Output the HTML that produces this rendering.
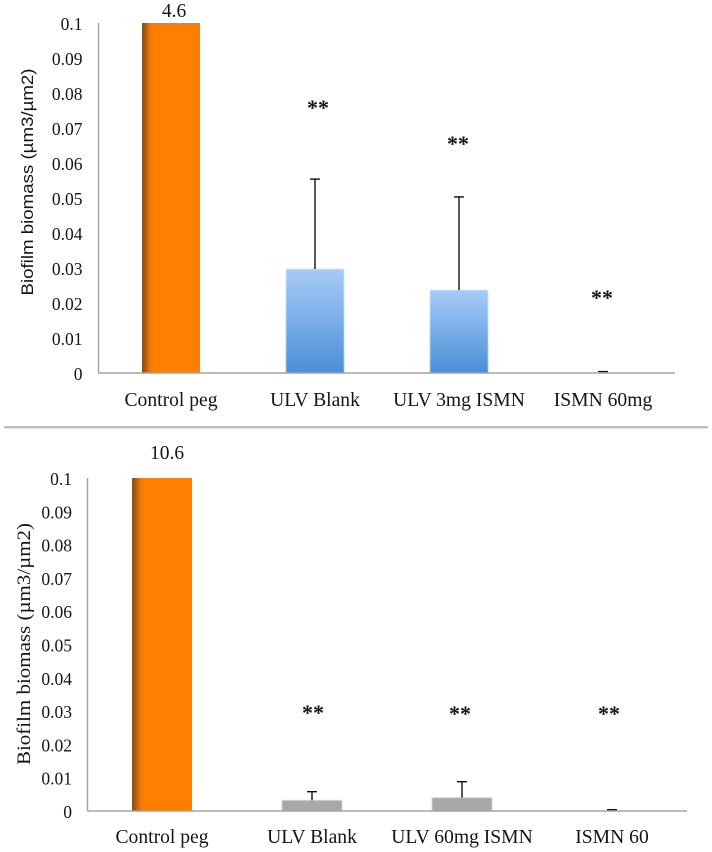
<!DOCTYPE html>
<html lang="en">
<head>
<meta charset="utf-8">
<title>Biofilm biomass charts</title>
<style>
  html, body { margin: 0; padding: 0; background: #fff; }
  svg { display: block; }
  text { fill: #141414; font-family: "Liberation Serif", serif; }
</style>
</head>
<body>
<svg id="figure" width="712" height="852" viewBox="0 0 712 852" xmlns="http://www.w3.org/2000/svg">
  <defs>
    <linearGradient id="orangeFill" x1="0" y1="0" x2="1" y2="0">
      <stop offset="0" stop-color="#8f4f14"/>
      <stop offset="0.04" stop-color="#a05510"/>
      <stop offset="0.13" stop-color="#e87408"/>
      <stop offset="0.2" stop-color="#ff7f00"/>
      <stop offset="1" stop-color="#ff7f00"/>
    </linearGradient>
    <linearGradient id="blueFill" x1="0" y1="0" x2="0" y2="1">
      <stop offset="0" stop-color="#a8cbf8"/>
      <stop offset="1" stop-color="#4a8fd8"/>
    </linearGradient>
    <filter id="softEdge" x="-10%" y="-10%" width="120%" height="120%">
      <feGaussianBlur stdDeviation="0.6"/>
    </filter>
  </defs>

  <rect x="0" y="0" width="712" height="852" fill="#ffffff"/>
  <rect x="4" y="426" width="704" height="2.4" fill="#bdbdbd"/>

  <g id="panelTop"></g>
  <g id="panelBottom"></g>

  <g font-weight="bold" font-size="22" text-anchor="middle">
    <text x="318" y="115">**</text>
    <text x="458" y="151">**</text>
    <text x="602" y="305">**</text>
    <text x="313" y="720">**</text>
    <text x="460" y="721">**</text>
    <text x="609" y="721">**</text>
  </g>
</svg>

<script>
const yTickLabels = ["0", "0.01", "0.02", "0.03", "0.04", "0.05", "0.06", "0.07", "0.08", "0.09", "0.1"];
const yTickValues = [0, 0.01, 0.02, 0.03, 0.04, 0.05, 0.06, 0.07, 0.08, 0.09, 0.1];
const axisMaximum = 0.1;

const topCategories = ["Control peg", "ULV Blank", "ULV 3mg ISMN", "ISMN 60mg"];
const topValues = [4.6, 0.0297, 0.0237, 0.0002];
const topErrors = [0, 0.0257, 0.0266, 0.0002];

const bottomCategories = ["Control peg", "ULV Blank", "ULV 60mg ISMN", "ISMN 60"];
const bottomValues = [10.6, 0.0032, 0.004, 0.0002];
const bottomErrors = [0, 0.0026, 0.0048, 0.0002];

const SVG_NS = "http://www.w3.org/2000/svg";

function svgEl(parent, tag, attrs) {
  const el = document.createElementNS(SVG_NS, tag);
  for (const key in attrs) el.setAttribute(key, attrs[key]);
  parent.appendChild(el);
  return el;
}

function drawPanel(root, cfg, categories, values, errors) {
  const yScale = v => cfg.bottom - (Math.min(v, axisMaximum) / axisMaximum) * (cfg.bottom - cfg.top);
  const xScale = i => cfg.firstCenter + i * cfg.step;

  yTickValues.forEach((tick, i) => {
    const label = svgEl(root, "text", { x: cfg.tickRight, y: yScale(tick) + 7, "text-anchor": "end", "font-size": 17.5 });
    
    
    label.textContent = yTickLabels[i];
  });

  values.forEach((value, i) => {
    const cx = xScale(i);
    const yTop = yScale(value);
    if (value > axisMaximum) {
      const bar = svgEl(root, "rect", { x: cx - cfg.barWidth / 2, y: yTop, width: cfg.barWidth, height: cfg.bottom - yTop, fill: "url(#orangeFill)" });
      
      
      const valueLabel = svgEl(root, "text", { x: cx + cfg.valueDx, y: cfg.valueY, "text-anchor": "middle", "font-size": 19.5 });
      
      
      valueLabel.textContent = String(value);
    } else if (value > 0.001) {
      const bar = svgEl(root, "rect", { x: cx - cfg.barWidth / 2, y: yTop, width: cfg.barWidth, height: cfg.bottom - yTop, fill: cfg.barFill, filter: "url(#softEdge)" });
      
      
    }
    if (errors[i] > 0) {
      const yErr = yScale(value + errors[i]);
      const stem = svgEl(root, "line", { x1: cx, x2: cx, y1: yTop, y2: yErr, stroke: "#111", "stroke-width": 1.4 });
      
      
      const cap = svgEl(root, "line", { x1: cx - 5, x2: cx + 5, y1: yErr, y2: yErr, stroke: "#111", "stroke-width": 1.4 });
      
      
    }
    const catLabel = svgEl(root, "text", { x: cx, y: cfg.catY, "text-anchor": "middle", "font-size": 19.6 });
    
    
    catLabel.textContent = categories[i];
  });

  const yAxis = svgEl(root, "line", { x1: cfg.left, x2: cfg.left, y1: cfg.top, y2: cfg.bottom, stroke: "#a3a3a3", "stroke-width": 1.4 });
  
  
  const xAxis = svgEl(root, "line", { x1: cfg.left, x2: cfg.right, y1: cfg.bottom, y2: cfg.bottom, stroke: "#a3a3a3", "stroke-width": 1.4 });
  
  

  const title = svgEl(root, "text", {
    transform: "translate(" + cfg.titleX + "," + cfg.titleY + ") rotate(-90)",
    "text-anchor": "middle",
    "font-size": cfg.titleSize,
    textLength: cfg.titleLength,
    lengthAdjust: "spacingAndGlyphs"
  });
  title.style.fontFamily = cfg.titleFont;
  
  
  title.textContent = "Biofilm biomass (\u00b5m3/\u00b5m2)";
}

drawPanel(document.getElementById("panelTop"), {
  left: 98.5, right: 675, top: 23, bottom: 373,
  firstCenter: 171, step: 144, barWidth: 58,
  tickRight: 82.5, catY: 406, valueY: 17, valueDx: 3,
  barFill: "url(#blueFill)",
  titleX: 33, titleY: 182, titleLength: 227, titleSize: 17,
  titleFont: '"Liberation Sans", sans-serif'
}, topCategories, topValues, topErrors);

drawPanel(document.getElementById("panelBottom"), {
  left: 87.5, right: 687, top: 478, bottom: 811,
  firstCenter: 162, step: 150, barWidth: 60,
  tickRight: 72, catY: 843, valueY: 459, valueDx: 5,
  barFill: "#a8a8a8",
  titleX: 30, titleY: 644, titleLength: 242, titleSize: 19,
  titleFont: '"Liberation Serif", serif'
}, bottomCategories, bottomValues, bottomErrors);
</script>
</body>
</html>
